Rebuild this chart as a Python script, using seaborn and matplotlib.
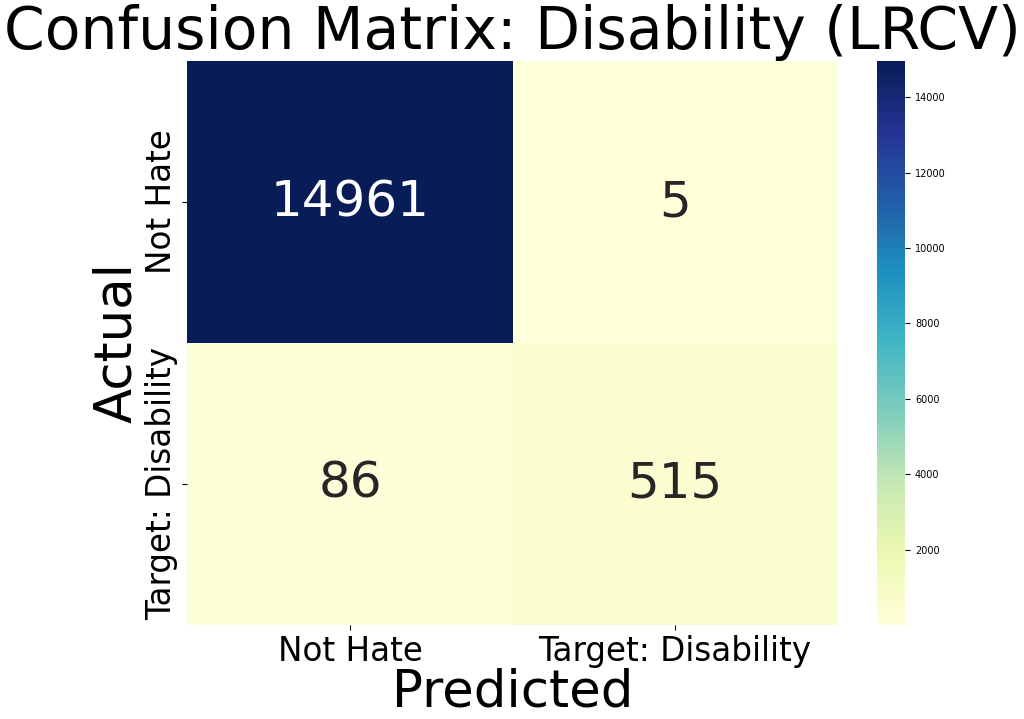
import matplotlib
matplotlib.use("Agg")
import matplotlib.pyplot as plt
import seaborn as sns
import numpy as np

labels = ["Not Hate", "Target: Disability"]
row_not_hate = [14961, 5]
row_target = [86, 515]

cm = np.array([row_not_hate, row_target])

fig = plt.figure(figsize=(10.24, 7.19), dpi=100)
ax = fig.add_axes([0.183, 0.131, 0.635, 0.784])
cax = fig.add_axes([0.856, 0.131, 0.028, 0.784])
sns.heatmap(cm, annot=True, fmt="d", cmap="YlGnBu", ax=ax, cbar_ax=cax,
            xticklabels=labels, yticklabels=labels,
            annot_kws={"fontsize": 36})
ax.set_title("Confusion Matrix: Disability (LRCV)", fontsize=42, pad=6)
ax.set_xlabel("Predicted", fontsize=37, labelpad=0)
ax.set_ylabel("Actual", fontsize=37, labelpad=2)
ax.tick_params(axis="both", labelsize=23.5)
cax.tick_params(labelsize=7)
fig.savefig("out.png", dpi=100)
